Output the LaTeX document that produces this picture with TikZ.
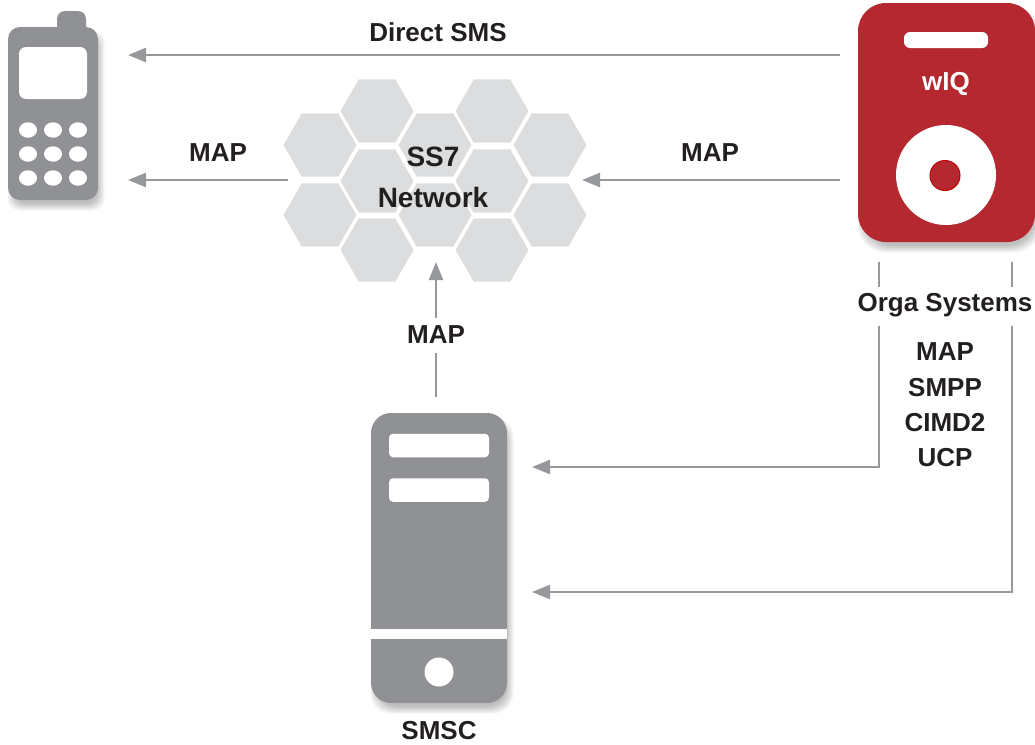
\documentclass[tikz,border=0pt]{standalone}
\usepackage{fontspec}
\setmainfont{Liberation Sans}
\usetikzlibrary{shapes.geometric,arrows.meta}
\definecolor{devgrey}{HTML}{8F9194}
\definecolor{linegrey}{HTML}{96989B}
\definecolor{hexgrey}{HTML}{DCDDDE}
\definecolor{wiqred}{HTML}{B5282F}
\definecolor{inkblack}{HTML}{231F20}
% soft shadow below a box: x1, y1, x2, y2, radius
\newcommand{\softshadow}[5]{
	\foreach \d in {0,1,...,7} {
		\fill[black, opacity=0.035, rounded corners=#5 pt]
			(#1+3+\d-3.5, #2+7+\d-3.5) rectangle (#3+3-\d+3.5, #4+7-\d+3.5);
	}
}
\begin{document}
\begin{tikzpicture}[
	x=1pt, y=-1pt,
	label/.style={font=\bfseries\fontsize{26}{31}\selectfont, text=inkblack, align=center, inner sep=1pt},
	link/.style={draw=linegrey, line width=2.4pt, -{Triangle[length=18pt, width=14pt]}},
	plain/.style={draw=linegrey, line width=2.4pt},
	hexcell/.style={regular polygon, regular polygon sides=6, fill=hexgrey, minimum size=73pt, inner sep=0pt, outer sep=0pt},
	box/.style={rectangle, fill=devgrey, inner sep=0pt, outer sep=0pt},
	hole/.style={rectangle, fill=white, inner sep=0pt, outer sep=0pt},
	dot/.style={ellipse, fill=white, inner sep=0pt, outer sep=0pt}
]
\useasboundingbox (0,0) rectangle (1035,744);

% shadows
\softshadow{8}{27}{98}{200}{12}
\softshadow{371}{413}{507}{703}{20}
\softshadow{858}{3}{1035}{242}{28}

% phone
\node[box, rounded corners=8pt, minimum width=29pt, minimum height=30pt] (antenna) at (71.5,26) {};
\node[box, rounded corners=12pt, minimum width=90pt, minimum height=173pt] (phone) at (53,113.5) {};
\node[hole, rounded corners=7pt, minimum width=68pt, minimum height=52pt] (screen) at (53,73) {};
\foreach \row/\y in {1/130,2/154,3/178} {
	\foreach \col/\x in {1/28,2/53,3/78} {
		\node[dot, minimum width=18pt, minimum height=15.5pt] (key\row\col) at (\x,\y) {};
	}
}

% network
\foreach \name/\x/\y in {a/320/145, b/320/215, c/377/111, d/377/181, e/377/250, f/435/145,
	g/435/215, h/492/111, i/492/181, j/492/250, k/550/145, l/550/215} {
	\node[hexcell] (hex\name) at (\x,\y) {};
}
\node[label, font=\bfseries\fontsize{28}{41}\selectfont] (ss7) at (433,177) {SS7\\Network};

% wIQ
\node[box, fill=wiqred, rounded corners=28pt, minimum width=177pt, minimum height=239pt] (wiq) at (946.5,122.5) {};
\node[hole, rounded corners=6pt, minimum width=84pt, minimum height=16pt] (slot) at (946,40) {};
\node[label, text=white] (wiqname) at (946,84) {wIQ};
\node[circle, fill=white, minimum size=100pt, inner sep=0pt] (disc) at (946,175) {};
\node[circle, fill=wiqred, draw=red!75!black, line width=1pt, minimum size=30pt, inner sep=0pt] (hub) at (945,175.5) {};

% SMSC
\node[box, rounded corners=20pt, minimum width=136pt, minimum height=290pt] (smsc) at (439,558) {};
\node[hole, rounded corners=4pt, minimum width=100pt, minimum height=23.5pt] (bayone) at (439,445.5) {};
\node[hole, rounded corners=4pt, minimum width=100pt, minimum height=23.5pt] (baytwo) at (439,490) {};
\node[hole, minimum width=136pt, minimum height=10pt] (band) at (439,634) {};
\node[circle, fill=white, minimum size=29pt, inner sep=0pt] (power) at (439,672) {};
\node[label] (smscname) at (439,731) {SMSC};

% connector ends
\coordinate (phonetop) at (128,55);
\coordinate (phonemid) at (128,180);
\coordinate (wiqtop) at (840,55);
\coordinate (wiqmid) at (840,180);
\coordinate (netleft) at (288,180);
\coordinate (netright) at (582,180);
\coordinate (netlow) at (436,262);
\coordinate (smsctop) at (436,397);
\coordinate (mapabove) at (436,318);
\coordinate (mapbelow) at (436,353);
\coordinate (oneup) at (879,262);
\coordinate (onegapa) at (879,287);
\coordinate (onegapb) at (879,326);
\coordinate (onedown) at (879,467);
\coordinate (smscone) at (532,467);
\coordinate (twoup) at (1012,262);
\coordinate (twogapa) at (1012,287);
\coordinate (twogapb) at (1012,326);
\coordinate (twodown) at (1012,592);
\coordinate (smsctwo) at (532,592);

\draw[link] (wiqtop) -- (phonetop);
\draw[link] (netleft) -- (phonemid);
\draw[link] (wiqmid) -- (netright);
\draw[plain] (smsctop) -- (mapbelow);
\draw[link] (mapabove) -- (netlow);
\draw[plain] (oneup) -- (onegapa);
\draw[link] (onegapb) -- (onedown) -- (smscone);
\draw[plain] (twoup) -- (twogapa);
\draw[link] (twogapb) -- (twodown) -- (smsctwo);

% labels
\node[label] (directsms) at (438,32) {Direct SMS};
\node[label] (mapleft) at (218,153) {MAP};
\node[label] (mapright) at (710,153) {MAP};
\node[label] (mapup) at (436,335) {MAP};
\node[label] (orga) at (945,305) {Orga Systems};
\node[label, font=\bfseries\fontsize{26}{35.3}\selectfont] (protocols) at (945,405) {MAP\\SMPP\\CIMD2\\UCP};
\end{tikzpicture}
\end{document}
